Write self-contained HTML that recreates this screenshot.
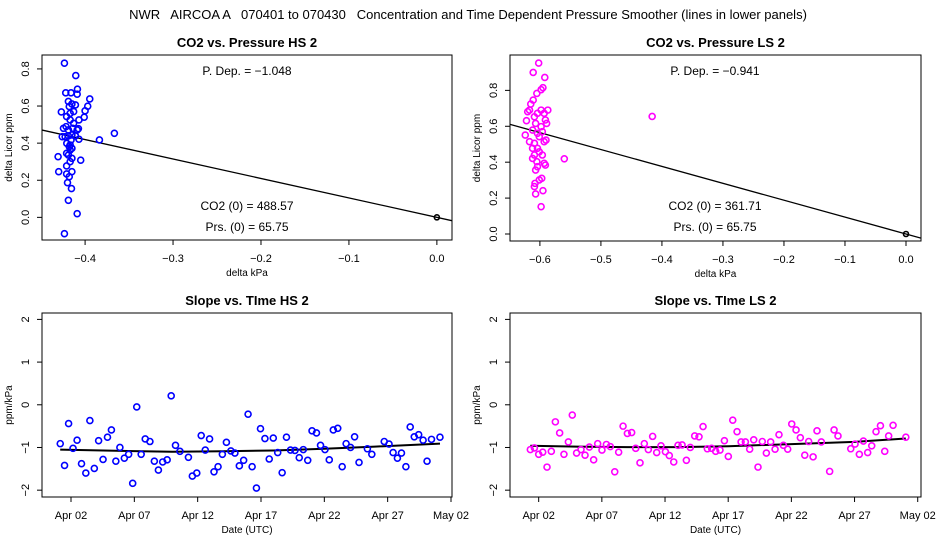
<!DOCTYPE html>
<html><head><meta charset="utf-8"><style>
body{margin:0;background:#fff;}
svg{display:block;font-family:"Liberation Sans",sans-serif;}
</style></head><body>
<svg id="c" width="936" height="540" viewBox="0 0 936 540">
<text x="468" y="19" text-anchor="middle" font-size="13" style="white-space:pre" xml:space="preserve">NWR   AIRCOA A   070401 to 070430   Concentration and Time Dependent Pressure Smoother (lines in lower panels)</text>
</svg>
<script>
// ---- data: HS scatter (delta kPa, delta ppm)
const hsX = [-0.4235,-0.4106,-0.4087,-0.409,-0.422,-0.416,-0.3947,-0.397,-0.400,-0.401,-0.407,-0.427,-0.419,-0.415,-0.411,-0.421,-0.417,-0.413,-0.4216,-0.4246,-0.419,-0.414,-0.4076,-0.409,-0.426,-0.4227,-0.419,-0.415,-0.411,-0.407,-0.3837,-0.3667,-0.4208,-0.417,-0.415,-0.421,-0.417,-0.4307,-0.419,-0.415,-0.405,-0.417,-0.421,-0.430,-0.415,-0.421,-0.418,-0.420,-0.4155,-0.419,-0.409,-0.4235,-0.417,-0.413,-0.418,-0.416,-0.418];
const hsY = [0.831,0.764,0.691,0.664,0.671,0.671,0.638,0.599,0.574,0.540,0.525,0.568,0.625,0.611,0.606,0.543,0.561,0.570,0.489,0.480,0.471,0.480,0.478,0.471,0.435,0.435,0.439,0.444,0.439,0.421,0.417,0.453,0.399,0.390,0.372,0.345,0.363,0.327,0.336,0.318,0.308,0.300,0.277,0.246,0.246,0.234,0.219,0.187,0.155,0.092,0.020,-0.088,0.525,0.507,0.597,0.417,0.381];
const hsSlope = -1.048;
// ---- data: LS scatter
const lsX = [-0.602,-0.611,-0.592,-0.595,-0.598,-0.605,-0.611,-0.615,-0.620,-0.622,-0.617,-0.609,-0.604,-0.598,-0.593,-0.587,-0.591,-0.607,-0.598,-0.589,-0.596,-0.604,-0.612,-0.624,-0.617,-0.609,-0.601,-0.593,-0.590,-0.612,-0.604,-0.609,-0.601,-0.596,-0.605,-0.612,-0.593,-0.591,-0.604,-0.607,-0.597,-0.601,-0.608,-0.609,-0.595,-0.607,-0.598,-0.560,-0.416];
const lsY = [0.952,0.900,0.872,0.815,0.804,0.783,0.746,0.724,0.681,0.631,0.690,0.653,0.672,0.690,0.672,0.690,0.635,0.616,0.598,0.616,0.570,0.561,0.579,0.551,0.514,0.505,0.542,0.514,0.523,0.477,0.477,0.440,0.458,0.440,0.403,0.421,0.394,0.384,0.375,0.356,0.310,0.301,0.282,0.264,0.241,0.223,0.152,0.419,0.655];
const lsSlope = -0.941;
// ---- data: HS slope vs time (day of April, ppm/kPa)
const hsDays = [1.15,1.49,1.81,2.16,2.48,2.83,3.17,3.49,3.84,4.18,4.53,4.88,5.19,5.54,5.86,6.21,6.55,6.87,7.19,7.54,7.86,8.23,8.58,8.90,9.24,9.59,9.91,10.25,10.60,11.27,11.58,11.93,12.28,12.60,12.94,13.29,13.61,13.95,14.27,14.62,14.94,15.29,15.63,15.98,16.30,16.64,16.96,17.31,17.65,17.97,18.32,18.67,19.01,19.33,19.68,20.02,20.34,20.69,21.03,21.38,21.70,22.05,22.39,22.71,23.06,23.41,23.72,24.07,24.39,24.74,25.40,25.75,26.73,27.11,27.43,27.77,28.09,28.44,28.78,29.10,29.45,29.80,30.11,30.46,31.13];
const hsVals = [-0.91,-1.42,-0.44,-1.02,-0.83,-1.38,-1.60,-0.37,-1.49,-0.84,-1.28,-0.76,-0.59,-1.32,-1.00,-1.25,-1.16,-1.84,-0.05,-1.16,-0.80,-0.86,-1.32,-1.53,-1.34,-1.29,0.21,-0.95,-1.09,-1.23,-1.67,-1.60,-0.72,-1.06,-0.80,-1.57,-1.45,-1.16,-0.88,-1.08,-1.13,-1.43,-1.30,-0.22,-1.45,-1.95,-0.56,-0.79,-1.27,-0.78,-1.12,-1.59,-0.76,-1.06,-1.07,-1.24,-1.05,-1.30,-0.61,-0.66,-0.95,-1.05,-1.29,-0.59,-0.55,-1.45,-0.91,-1.00,-0.75,-1.35,-1.03,-1.16,-0.86,-0.92,-1.12,-1.25,-1.13,-1.45,-0.52,-0.75,-0.70,-0.83,-1.32,-0.81,-0.76];
const hsSmDays = [1.15,6,10,14,18,22,26,31.13];
const hsSmVals = [-1.05,-1.08,-1.10,-1.09,-1.07,-1.03,-0.98,-0.91];
// ---- data: LS slope vs time
const lsDays = [1.34,1.66,2.0,2.32,2.66,3.0,3.32,3.66,4.0,4.35,4.66,5.0,5.35,5.67,6.01,6.35,6.67,7.01,7.36,7.67,8.02,8.33,8.68,9.02,9.36,9.68,10.02,10.36,10.68,11.02,11.34,11.68,12.03,12.34,12.69,13.03,13.35,13.69,14.0,14.35,14.69,15.01,15.35,15.69,16.01,16.35,16.70,17.01,17.36,17.70,18.02,18.36,18.70,19.02,19.36,19.70,20.02,20.36,20.71,21.02,21.37,21.71,22.03,22.37,22.71,23.06,23.37,23.72,24.03,24.37,25.03,25.38,25.69,26.70,27.04,27.38,27.70,28.04,28.36,28.70,29.05,29.39,29.70,30.05,31.06];
const lsVals = [-1.05,-1.01,-1.16,-1.11,-1.46,-1.09,-0.40,-0.66,-1.16,-0.87,-0.24,-1.13,-1.05,-1.18,-0.99,-1.29,-0.91,-1.06,-0.93,-0.98,-1.57,-1.11,-0.50,-0.67,-0.65,-1.02,-1.36,-0.91,-1.05,-0.74,-1.12,-0.96,-1.10,-1.19,-1.34,-0.95,-0.94,-1.30,-1.00,-0.73,-0.75,-0.51,-1.03,-1.02,-1.09,-1.06,-0.84,-1.21,-0.36,-0.63,-0.87,-0.87,-1.04,-0.82,-1.46,-0.86,-1.13,-0.87,-1.04,-0.70,-0.95,-1.04,-0.45,-0.59,-0.77,-1.18,-0.86,-1.22,-0.61,-0.87,-1.56,-0.59,-0.73,-1.03,-0.92,-1.16,-0.85,-1.12,-0.96,-0.63,-0.49,-1.09,-0.73,-0.48,-0.76];
const lsSmDays = [1.34,5,9,13,17,22,27,31.06];
const lsSmVals = [-0.96,-0.98,-0.99,-0.99,-0.97,-0.92,-0.87,-0.79];
const dateTicks = [2,7,12,17,22,27,32];
const dateLabels = ["Apr 02","Apr 07","Apr 12","Apr 17","Apr 22","Apr 27","May 02"];
const slopeTicks = [-2,-1,0,1,2];

const svg = document.getElementById('c');
const NS = 'http://www.w3.org/2000/svg';
function mk(tag, attrs, parent){ const e=document.createElementNS(NS,tag); for(const k in attrs) e.setAttribute(k,attrs[k]); (parent||svg).appendChild(e); return e; }
function txt(s, attrs, parent){ const e=mk('text',attrs,parent); e.textContent=s; return e; }

function panel(o){
  const g = mk('g',{});
  
  
  const sx = v => o.x0 + (v - o.xmin)/(o.xmax-o.xmin)*(o.x1-o.x0);
  const sy = v => o.y1 - (v - o.ymin)/(o.ymax-o.ymin)*(o.y1-o.y0);
  const box = mk('rect',{x:o.x0,y:o.y0,width:o.x1-o.x0,height:o.y1-o.y0,fill:'none',stroke:'#000','stroke-width':1},g);
  
  
  const t = txt(o.title,{x:(o.x0+o.x1)/2,y:o.y0-8,'text-anchor':'middle','font-size':13,'font-weight':'bold'},g);
  
  
  const xa = mk('g',{},g);
  
  
  const xax0 = sx(o.xticks[0]), xax1 = sx(o.xticks[o.xticks.length-1]);
  mk('line',{x1:xax0,x2:xax1,y1:o.y1,y2:o.y1,stroke:'#000'},xa);
  o.xticks.forEach((v,i)=>{
    const X=sx(v);
    mk('line',{x1:X,x2:X,y1:o.y1,y2:o.y1+5,stroke:'#000'},xa);
    const l=txt(o.xlabels[i],{x:X,y:o.y1+22,'text-anchor':'middle','font-size':11},xa);
    
    
  });
  const xl = txt(o.xtitle,{x:(o.x0+o.x1)/2,y:o.y1+36,'text-anchor':'middle','font-size':10},g);
  
  
  const ya = mk('g',{},g);
  
  
  mk('line',{x1:o.x0,x2:o.x0,y1:sy(o.yticks[0]),y2:sy(o.yticks[o.yticks.length-1]),stroke:'#000'},ya);
  o.yticks.forEach((v,i)=>{
    const Y=sy(v);
    mk('line',{x1:o.x0-5,x2:o.x0,y1:Y,y2:Y,stroke:'#000'},ya);
    const l=txt(o.ylabels[i],{x:o.x0-13,y:Y,'text-anchor':'middle','font-size':11,transform:`rotate(-90 ${o.x0-13} ${Y})`},ya);
    
    
  });
  const yt = txt(o.ytitle,{x:o.x0-30,y:(o.y0+o.y1)/2,'text-anchor':'middle','font-size':10,transform:`rotate(-90 ${o.x0-30} ${(o.y0+o.y1)/2})`},g);
  
  
  const cid='clip'+o.name;
  const cp=mk('clipPath',{id:cid},g); mk('rect',{x:o.x0,y:o.y0,width:o.x1-o.x0,height:o.y1-o.y0},cp);
  const plot=mk('g',{'clip-path':`url(#${cid})`},g);
  
  
  if(o.slope!==undefined){
    const ln=mk('line',{x1:sx(o.xmin),y1:sy(o.slope*o.xmin),x2:sx(o.xmax),y2:sy(o.slope*o.xmax),stroke:'#000','stroke-width':1.3},plot);
    
    
  }
  if(o.smX){
    const d=o.smX.map((v,i)=>(i?'L':'M')+sx(v).toFixed(1)+' '+sy(o.smY[i]).toFixed(1)).join(' ');
    const p=mk('path',{d:d,fill:'none',stroke:'#000','stroke-width':2},plot);
    
    
  }
  o.px.forEach((v,i)=>{
    const c=mk('circle',{cx:sx(v),cy:sy(o.py[i]),r:3,fill:'none',stroke:o.color,'stroke-width':1.6},plot);
    
    
  });
  if(o.origin){
    const c=mk('circle',{cx:sx(0),cy:sy(0),r:2.5,fill:'none',stroke:'#000','stroke-width':1.6},plot);
    
    
  }
  (o.notes||[]).forEach(n=>{
    const l=txt(n[0],{x:n[1],y:n[2],'text-anchor':'middle','font-size':12},g);
    
    
  });
}
const t02=[0,0.2,0.4,0.6,0.8], t02l=["0.0","0.2","0.4","0.6","0.8"];
panel({name:'co2-pressure-hs',title:'CO2 vs. Pressure HS 2',x0:42,x1:452,y0:55,y1:240,xmin:-0.449,xmax:0.0172,ymin:-0.122,ymax:0.875,
  xticks:[-0.4,-0.3,-0.2,-0.1,0],xlabels:["\u22120.4","\u22120.3","\u22120.2","\u22120.1","0.0"],yticks:t02,ylabels:t02l,
  xtitle:'delta kPa',ytitle:'delta Licor ppm',px:hsX,py:hsY,color:'#0000ff',slope:hsSlope,origin:true,
  notes:[["P. Dep. =  \u22121.048",247,75],["CO2 (0) =  488.57",247,210],["Prs. (0) =  65.75",247,231]]});
panel({name:'co2-pressure-ls',title:'CO2 vs. Pressure LS 2',x0:510,x1:921,y0:55,y1:241,xmin:-0.649,xmax:0.0246,ymin:-0.039,ymax:0.997,
  xticks:[-0.6,-0.5,-0.4,-0.3,-0.2,-0.1,0],xlabels:["\u22120.6","\u22120.5","\u22120.4","\u22120.3","\u22120.2","\u22120.1","0.0"],yticks:t02,ylabels:t02l,
  xtitle:'delta kPa',ytitle:'delta Licor ppm',px:lsX,py:lsY,color:'#ff00ff',slope:lsSlope,origin:true,
  notes:[["P. Dep. =  \u22120.941",715,75],["CO2 (0) =  361.71",715,210],["Prs. (0) =  65.75",715,231]]});
const sl = slopeTicks.map(v=>v<0?'\u2212'+(-v):String(v));
panel({name:'slope-time-hs',title:'Slope vs. TIme HS 2',x0:42,x1:452,y0:313,y1:497,xmin:-0.29,xmax:32.08,ymin:-2.16,ymax:2.15,
  xticks:dateTicks,xlabels:dateLabels,yticks:slopeTicks,ylabels:sl,xtitle:'Date (UTC)',ytitle:'ppm/kPa',
  px:hsDays,py:hsVals,color:'#0000ff',smX:hsSmDays,smY:hsSmVals});
panel({name:'slope-time-ls',title:'Slope vs. TIme LS 2',x0:510,x1:921,y0:313,y1:497,xmin:-0.27,xmax:32.26,ymin:-2.16,ymax:2.15,
  xticks:dateTicks,xlabels:dateLabels,yticks:slopeTicks,ylabels:sl,xtitle:'Date (UTC)',ytitle:'ppm/kPa',
  px:lsDays,py:lsVals,color:'#ff00ff',smX:lsSmDays,smY:lsSmVals});
</script>
</body></html>
